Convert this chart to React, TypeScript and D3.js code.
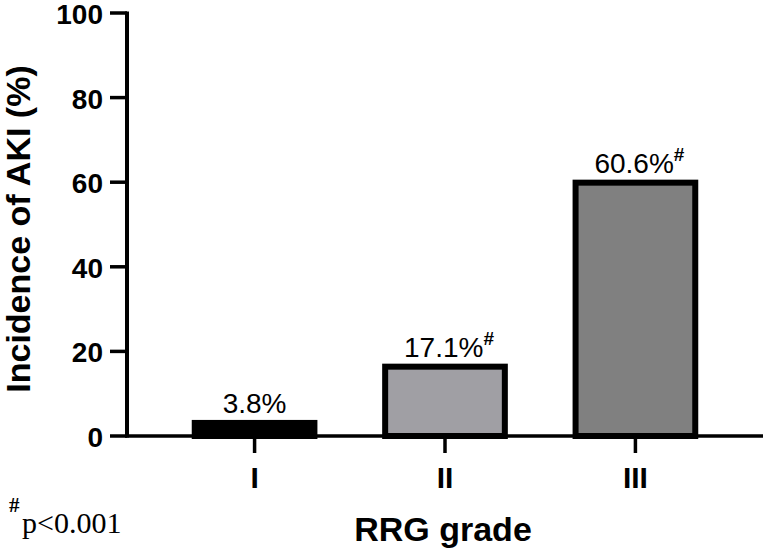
import React from "react";
import * as d3 from "d3";

const categories = ["I", "II", "III"];
const values = [3.8, 17.1, 60.6];
const valueLabels = ["3.8%", "17.1%", "60.6%"];
const significant = [false, true, true];
const fills = ["#000000", "#a09fa4", "#808080"];
const yTicks = [0, 20, 40, 60, 80, 100];

const W = 765;
const H = 551;

export default function App() {
  const x = d3
    .scaleBand<string>()
    .domain(categories)
    .range([127, 763])
    .paddingInner(0.34)
    .paddingOuter(0.34);
  const y = d3.scaleLinear().domain([0, 100]).range([436, 13]);
  const bw = x.bandwidth();
  const sw = 6;
  const sans = "'Liberation Sans', Arial, sans-serif";
  const serif = "'Liberation Serif', 'Times New Roman', serif";

  return (
    <svg
      width={W}
      height={H}
      style={{ position: "absolute", left: 0, top: 0, background: "#fff" }}
    >
      <rect width={W} height={H} fill="#fff" />
      {/* bars */}
      {categories.map((c, i) => {
        const x0 = x(c)!;
        const yt = y(values[i]);
        return (
          <rect
            key={c}
            x={x0 + sw / 2}
            y={yt + sw / 2}
            width={bw - sw}
            height={Math.max(0, y(0) - yt - sw / 2)}
            fill={fills[i]}
            stroke="#000"
            strokeWidth={sw}
          />
        );
      })}
      {/* value labels */}
      {categories.map((c, i) => (
        <text
          key={"l" + c}
          x={x(c)! + bw / 2 + (significant[i] ? 4 : 0)}
          y={y(values[i]) - 7}
          textAnchor="middle"
          fontFamily={sans}
          fontSize={28}
          fill="#000"
        >
          {valueLabels[i]}
          {significant[i] && (
            <tspan fontSize={19} fontWeight="bold" dy={-12}>
              #
            </tspan>
          )}
        </text>
      ))}
      {/* y axis */}
      <line x1={127} x2={127} y1={y(100) - 1.5} y2={y(0) + 1.5} stroke="#000" strokeWidth={4} />
      {yTicks.map((t) => (
        <g key={t}>
          <line x1={110} x2={127} y1={y(t)} y2={y(t)} stroke="#000" strokeWidth={3.5} />
          <text
            x={103}
            y={y(t) + 11}
            textAnchor="end"
            fontFamily={sans}
            fontWeight="bold"
            fontSize={28}
            fill="#000"
          >
            {t}
          </text>
        </g>
      ))}
      {/* x axis */}
      <line x1={125} x2={763} y1={y(0)} y2={y(0)} stroke="#000" strokeWidth={3.5} />
      {categories.map((c) => (
        <g key={"t" + c}>
          <line
            x1={x(c)! + bw / 2}
            x2={x(c)! + bw / 2}
            y1={y(0)}
            y2={y(0) + 17}
            stroke="#000"
            strokeWidth={3.5}
          />
          <text
            x={x(c)! + bw / 2}
            y={488}
            textAnchor="middle"
            fontFamily={sans}
            fontWeight="bold"
            fontSize={30}
            fill="#000"
          >
            {c}
          </text>
        </g>
      ))}
      {/* axis titles */}
      <text
        transform="translate(30,229) rotate(-90)"
        textAnchor="middle"
        fontFamily={sans}
        fontWeight="bold"
        fontSize={34}
        fill="#000"
      >
        Incidence of AKI (%)
      </text>
      <text
        x={443}
        y={541}
        textAnchor="middle"
        fontFamily={sans}
        fontWeight="bold"
        fontSize={34}
        fill="#000"
      >
        RRG grade
      </text>
      {/* footnote */}
      <text x={9} y={512} fontFamily={serif} fontSize={21} fontWeight="bold" fill="#000">
        #
      </text>
      <text x={22} y={533} fontFamily={serif} fontSize={30} fill="#000">
        p&lt;0.001
      </text>
    </svg>
  );
}
